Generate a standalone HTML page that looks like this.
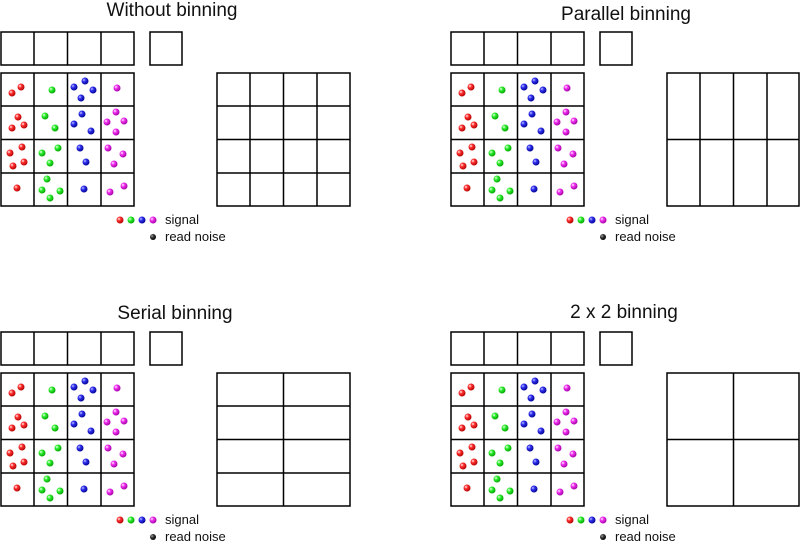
<!DOCTYPE html>
<html><head><meta charset="utf-8"><style>
html,body{margin:0;padding:0;background:#fff;width:800px;height:542px;overflow:hidden}
svg{display:block}
text{font-family:"Liberation Sans",sans-serif;fill:#111}
</style></head><body>
<svg width="800" height="542" viewBox="0 0 800 542" xmlns="http://www.w3.org/2000/svg">
<defs>
<radialGradient id="gr" cx="0.35" cy="0.35" r="0.7"><stop offset="0" stop-color="#fff"/><stop offset="0.35" stop-color="#ff3030"/><stop offset="1" stop-color="#b00000"/></radialGradient>
<radialGradient id="gg" cx="0.35" cy="0.35" r="0.7"><stop offset="0" stop-color="#fff"/><stop offset="0.35" stop-color="#30f030"/><stop offset="1" stop-color="#00a000"/></radialGradient>
<radialGradient id="gb" cx="0.35" cy="0.35" r="0.7"><stop offset="0" stop-color="#ccf"/><stop offset="0.35" stop-color="#3030f0"/><stop offset="1" stop-color="#000090"/></radialGradient>
<radialGradient id="gm" cx="0.35" cy="0.35" r="0.7"><stop offset="0" stop-color="#fff"/><stop offset="0.35" stop-color="#f030f0"/><stop offset="1" stop-color="#a000a0"/></radialGradient>
<radialGradient id="gk" cx="0.35" cy="0.35" r="0.7"><stop offset="0" stop-color="#aaa"/><stop offset="0.4" stop-color="#333"/><stop offset="1" stop-color="#000"/></radialGradient>
<g id="p" stroke="#000" stroke-width="1.5" fill="none">
<rect x="1" y="32" width="133" height="33"/>
<line x1="34" y1="32" x2="34" y2="65"/><line x1="67.5" y1="32" x2="67.5" y2="65"/><line x1="101" y1="32" x2="101" y2="65"/>
<rect x="150" y="32" width="32" height="33"/>
<rect x="1" y="73" width="133" height="133"/>
<line x1="34" y1="73" x2="34" y2="206"/><line x1="67.5" y1="73" x2="67.5" y2="206"/><line x1="101" y1="73" x2="101" y2="206"/>
<line x1="1" y1="106" x2="134" y2="106"/><line x1="1" y1="139.5" x2="134" y2="139.5"/><line x1="1" y1="173" x2="134" y2="173"/>
<g stroke="none">
<g fill="url(#gr)">
<circle cx="12" cy="93" r="3.5"/><circle cx="21" cy="87" r="3.5"/>
<circle cx="18" cy="117" r="3.5"/><circle cx="12" cy="128" r="3.5"/><circle cx="24" cy="125" r="3.5"/>
<circle cx="22" cy="147" r="3.5"/><circle cx="10" cy="153" r="3.5"/><circle cx="24" cy="162" r="3.5"/><circle cx="13" cy="166" r="3.5"/>
<circle cx="17" cy="188" r="3.5"/><circle cx="120" cy="220" r="3.5"/></g>
<g fill="url(#gg)">
<circle cx="52" cy="90" r="3.5"/><circle cx="45" cy="116" r="3.5"/><circle cx="55" cy="128" r="3.5"/>
<circle cx="58" cy="148" r="3.5"/><circle cx="42" cy="153" r="3.5"/><circle cx="50" cy="163" r="3.5"/>
<circle cx="47" cy="179" r="3.5"/><circle cx="42" cy="190" r="3.5"/><circle cx="60" cy="191" r="3.5"/><circle cx="50" cy="198" r="3.5"/>
<circle cx="131" cy="220" r="3.5"/></g>
<g fill="url(#gb)">
<circle cx="85" cy="81" r="3.5"/><circle cx="74" cy="87" r="3.5"/><circle cx="93" cy="90" r="3.5"/><circle cx="81" cy="98" r="3.5"/>
<circle cx="82" cy="114" r="3.5"/><circle cx="74" cy="124" r="3.5"/><circle cx="91" cy="131" r="3.5"/>
<circle cx="80" cy="148" r="3.5"/><circle cx="86" cy="162" r="3.5"/><circle cx="84" cy="189" r="3.5"/>
<circle cx="142" cy="220" r="3.5"/></g>
<g fill="url(#gm)">
<circle cx="117" cy="88" r="3.5"/><circle cx="116" cy="112" r="3.5"/><circle cx="107" cy="122" r="3.5"/><circle cx="124" cy="121" r="3.5"/><circle cx="116" cy="132" r="3.5"/>
<circle cx="108" cy="148" r="3.5"/><circle cx="123" cy="154" r="3.5"/><circle cx="114" cy="164" r="3.5"/>
<circle cx="124" cy="186" r="3.5"/><circle cx="110" cy="192" r="3.5"/><circle cx="153" cy="220" r="3.5"/></g>
<circle cx="153" cy="237" r="3" fill="url(#gk)"/>
</g>
</g>
</defs>
<use href="#p"/>
<use href="#p" transform="translate(450,0)"/>
<use href="#p" transform="translate(0,300)"/>
<use href="#p" transform="translate(450,300)"/>
<g font-size="13">
<text x="165" y="224">signal</text><text x="165" y="241">read noise</text>
<text x="615" y="224">signal</text><text x="615" y="241">read noise</text>
<text x="165" y="524">signal</text><text x="165" y="541">read noise</text>
<text x="615" y="524">signal</text><text x="615" y="541">read noise</text>
</g>
<g font-size="19" text-anchor="middle">
<text x="172" y="16">Without binning</text>
<text x="626" y="20">Parallel binning</text>
<text x="175" y="319">Serial binning</text>
<text x="624" y="318">2 x 2 binning</text>
</g>
<g stroke="#000" stroke-width="1.5" fill="none">
<rect x="217" y="73" width="133" height="133"/>
<line x1="250" y1="73" x2="250" y2="206"/><line x1="283.5" y1="73" x2="283.5" y2="206"/><line x1="317" y1="73" x2="317" y2="206"/>
<line x1="217" y1="106" x2="350" y2="106"/><line x1="217" y1="139.5" x2="350" y2="139.5"/><line x1="217" y1="173" x2="350" y2="173"/>
<rect x="667" y="73" width="132" height="133"/>
<line x1="700" y1="73" x2="700" y2="206"/><line x1="733.5" y1="73" x2="733.5" y2="206"/><line x1="767" y1="73" x2="767" y2="206"/>
<line x1="667" y1="139.5" x2="799" y2="139.5"/>
<rect x="217" y="373" width="133" height="133"/>
<line x1="283.5" y1="373" x2="283.5" y2="506"/>
<line x1="217" y1="406" x2="350" y2="406"/><line x1="217" y1="439.5" x2="350" y2="439.5"/><line x1="217" y1="473" x2="350" y2="473"/>
<rect x="667" y="373" width="132" height="133"/>
<line x1="733.5" y1="373" x2="733.5" y2="506"/>
<line x1="667" y1="439.5" x2="799" y2="439.5"/>
</g>
</svg>
</body></html>
